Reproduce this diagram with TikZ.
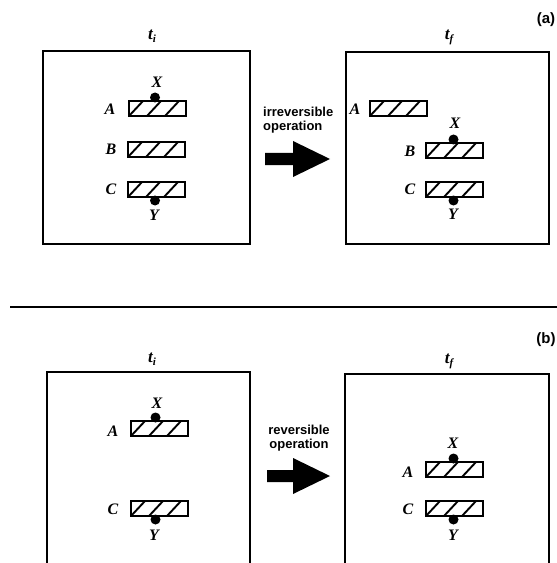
\documentclass[tikz,border=0pt]{standalone}
\usepackage{fontspec}
\setmainfont{Liberation Serif}
\newfontfamily\sansb{Liberation Sans}
\tikzset{
  frame/.style={draw, line width=2bp},
  bar/.style={draw, line width=2bp, minimum width=57bp, minimum height=15bp, inner sep=0pt, anchor=north west,
    path picture={\foreach \o in {0,18,36} \draw[line width=1.9bp] ([xshift=\o bp]path picture bounding box.south west) -- ++(14bp,15bp);}},
  dot/.style={circle, fill=black, minimum size=10bp, inner sep=0pt},
  lab/.style={inner sep=0pt, font=\fontsize{16bp}{16bp}\selectfont\bfseries\itshape},
  tlab/.style={inner sep=0pt, font=\fontsize{17bp}{17bp}\selectfont\bfseries\itshape},
  optext/.style={inner sep=0pt, font=\fontsize{13bp}{14bp}\selectfont\sansb\bfseries},
  plab/.style={inner sep=0pt, font=\fontsize{15bp}{15bp}\selectfont\sansb\bfseries},
  bigarrow/.style={fill=black},
  sep/.style={line width=2bp}
}
\newcommand{\tsub}[1]{t\raisebox{-3bp}{\fontsize{11bp}{11bp}\selectfont #1}}
\begin{document}
\begin{tikzpicture}[x=1bp,y=-1bp]
\useasboundingbox (0,0) rectangle (557,563);
% ---------- panel (a) ----------
\node[plab] (pa) at (546,20) {(a)};
\node[tlab] (ati) at (152,36) {\tsub{i}};
\node[tlab] (atf) at (449,37) {\tsub{f}};
\draw[frame] (43,51) rectangle (250,244);
\draw[frame] (346,52) rectangle (549,244);
% left state
\node[bar] (aA1) at (128,100) {};
\node[bar] (aB1) at (127,141) {};
\node[bar] (aC1) at (127,181) {};
\node[lab] (laA1) at (110,109) {A};
\node[lab] (laB1) at (111,149) {B};
\node[lab] (laC1) at (111,189) {C};
\node[dot] (axd1) at ([xshift=-2.5bp,yshift=2.5bp]aA1.north) {};
\node[dot] (ayd1) at ([xshift=-1.5bp,yshift=-2.5bp]aC1.south) {};
\node[lab] (ax1) at (157,82) {X};
\node[lab] (ay1) at (154,215) {Y};
% operation
\node[optext, align=left, anchor=west] (aop) at (263,120) {irreversible\\operation};
\path[bigarrow] (265,153) -- (293,153) -- (293,141) -- (330,159) -- (293,177) -- (293,165) -- (265,165) -- cycle;
% right state
\node[bar] (aA2) at (369,100) {};
\node[bar] (aB2) at (425,142) {};
\node[bar] (aC2) at (425,181) {};
\node[lab] (laA2) at (355,109) {A};
\node[lab] (laB2) at (410,151) {B};
\node[lab] (laC2) at (410,189) {C};
\node[dot] (axd2) at ([xshift=-1bp,yshift=2.5bp]aB2.north) {};
\node[dot] (ayd2) at ([xshift=-1bp,yshift=-2.5bp]aC2.south) {};
\node[lab] (ax2) at (455,123) {X};
\node[lab] (ay2) at (453,214) {Y};
% ---------- separator ----------
\draw[sep] (10,307) -- (557,307);
% ---------- panel (b) ----------
\node[plab] (pb) at (546,340) {(b)};
\node[tlab] (bti) at (152,359) {\tsub{i}};
\node[tlab] (btf) at (449,361) {\tsub{f}};
\draw[frame] (47,566) -- (47,372) -- (250,372) -- (250,566);
\draw[frame] (345,566) -- (345,374) -- (549,374) -- (549,566);
% left state
\node[bar] (bA1) at (130,420) {};
\node[bar] (bC1) at (130,500) {};
\node[lab] (lbA1) at (113,431) {A};
\node[lab] (lbC1) at (113,509) {C};
\node[dot] (bxd1) at ([xshift=-4bp,yshift=2.5bp]bA1.north) {};
\node[dot] (byd1) at ([xshift=-4bp,yshift=-2.5bp]bC1.south) {};
\node[lab] (bx1) at (157,403) {X};
\node[lab] (by1) at (154,535) {Y};
% operation
\node[optext, align=center] (bop) at (299,438) {reversible\\operation};
\path[bigarrow] (267,470) -- (293,470) -- (293,458) -- (330,476) -- (293,494) -- (293,482) -- (267,482) -- cycle;
% right state
\node[bar] (bA2) at (425,461) {};
\node[bar] (bC2) at (425,500) {};
\node[lab] (lbA2) at (408,472) {A};
\node[lab] (lbC2) at (408,509) {C};
\node[dot] (bxd2) at ([xshift=-1bp,yshift=2.5bp]bA2.north) {};
\node[dot] (byd2) at ([xshift=-1bp,yshift=-2.5bp]bC2.south) {};
\node[lab] (bx2) at (453,443) {X};
\node[lab] (by2) at (453,535) {Y};
\end{tikzpicture}
\end{document}
